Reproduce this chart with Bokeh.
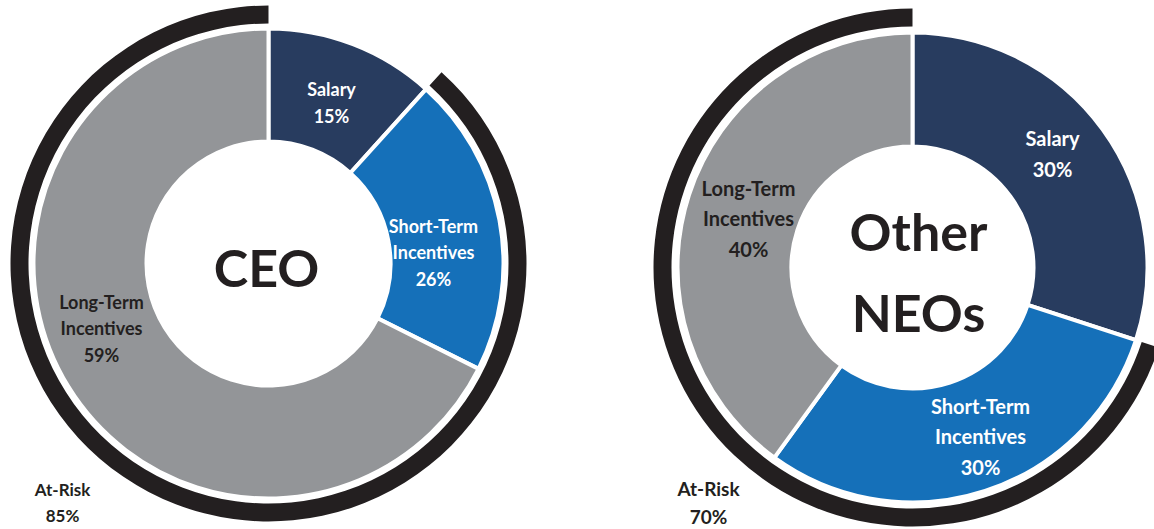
import numpy as np
from bokeh.plotting import figure
from bokeh.models import Range1d
from bokeh.embed import file_html
from bokeh.resources import INLINE
from bokeh.core.properties import value

# ---------------- data ----------------
categories = ["Salary", "Short-Term\nIncentives", "Long-Term\nIncentives"]
ceo_label_pct = [15, 26, 59]
ceo_drawn_share = [11.7, 20.7, 67.6]     # wedge sizes as drawn in the picture
neo_label_pct = [30, 30, 40]
neo_drawn_share = [30, 30, 40]
ceo_at_risk = 85
neo_at_risk = 70
ceo_title = "CEO"
neo_title = "Other\nNEOs"

colors = ["#283c5f", "#1570b9", "#939598"]
label_colors = ["#ffffff", "#ffffff", "#231f20"]
ring_color = "#231f20"
dark = "#231f20"
FONT = value("Lato")

# ---------------- figure ----------------
W, H = 1154, 529
p = figure(width=W, height=H, x_range=Range1d(0, W), y_range=Range1d(0, H),
           output_backend="svg", toolbar_location=None, min_border=0)
p.axis.visible = False
p.grid.visible = False
p.outline_line_color = None
p.background_fill_color = "white"


def Y(py):
    return H - py


def donut(cx, cy, shares, r_hole, r_out, ring_in, ring_out):
    fr = np.array(shares, dtype=float) / sum(shares)
    cum = np.concatenate([[0.0], np.cumsum(fr)])
    start = np.pi / 2 - 2 * np.pi * cum[:-1]
    end = np.pi / 2 - 2 * np.pi * cum[1:]
    # at-risk ring: everything after salary, clockwise back to the top
    p.annular_wedge(x=cx, y=Y(cy), inner_radius=ring_in, outer_radius=ring_out,
                    start_angle=end[0], end_angle=np.pi / 2, direction="clock",
                    fill_color=ring_color, line_color=None)
    p.annular_wedge(x=[cx] * 3, y=[Y(cy)] * 3, inner_radius=r_hole, outer_radius=r_out,
                    start_angle=list(start), end_angle=list(end), direction="clock",
                    fill_color=colors, line_color="white", line_width=4)


donut(268, 263, ceo_drawn_share, 122, 235, 240, 258)
donut(912, 267, neo_drawn_share, 121, 235, 241, 259)


def labels(positions, pcts, size, lh):
    xs, ys, ts = [], [], []
    for (x, y), cat, pct in zip(positions, categories, pcts):
        xs.append(x); ys.append(Y(y)); ts.append(f"{cat}\n{pct}%")
    p.text(x=xs, y=ys, text=ts, text_color=label_colors,
           text_font=FONT, text_font_style="bold", text_font_size=size,
           text_align="center", text_baseline="middle", text_line_height=lh)


labels([(331, 102), (433, 252), (101, 328)], ceo_label_pct, "18px", 1.22)
labels([(1052, 153), (980, 436), (748, 218)], neo_label_pct, "20px", 1.27)

p.text(x=[62], y=[Y(502)], text=[f"At-Risk\n{ceo_at_risk}%"], text_color=dark,
       text_font=FONT, text_font_style="bold", text_font_size="17px",
       text_align="center", text_baseline="middle", text_line_height=1.2)
p.text(x=[708], y=[Y(502)], text=[f"At-Risk\n{neo_at_risk}%"], text_color=dark,
       text_font=FONT, text_font_style="bold", text_font_size="19px",
       text_align="center", text_baseline="middle", text_line_height=1.25)

p.text(x=[266], y=[Y(266)], text=[ceo_title], text_color=dark,
       text_font=FONT, text_font_style="bold", text_font_size="52px",
       text_align="center", text_baseline="middle")
p.text(x=[918], y=[Y(271)], text=[neo_title], text_color=dark,
       text_font=FONT, text_font_style="bold", text_font_size="52px",
       text_align="center", text_baseline="middle", text_line_height=1.3)

open("out.html", "w").write(file_html(p, INLINE))
